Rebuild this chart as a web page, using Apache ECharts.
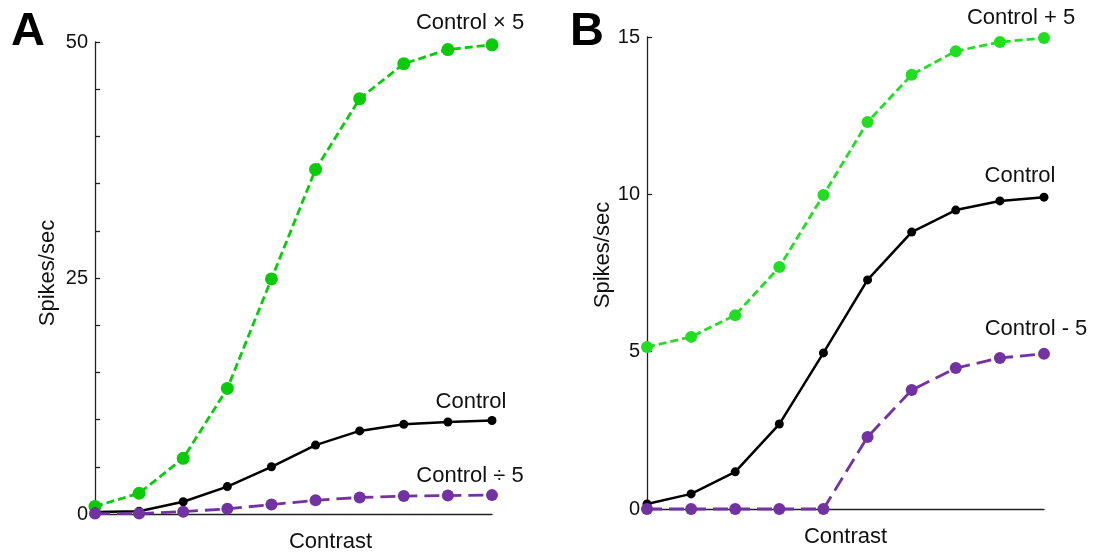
<!DOCTYPE html>
<html>
<head>
<meta charset="utf-8">
<script src="https://cdn.jsdelivr.net/npm/echarts@6/dist/echarts.min.js"></script>
<style>
  html, body { margin: 0; padding: 0; background: #fff; }
  #chart { width: 1098px; height: 554px; }
</style>
</head>
<body>
<div id="chart"></div>
<script>
// Contrast levels (ten steps, unlabelled on the axis)
const contrastLevels = ['1', '2', '3', '4', '5', '6', '7', '8', '9', '10'];

// Panel A: multiplicative gain
const controlA = [0.2, 0.3, 1.3, 2.9, 5.0, 7.3, 8.8, 9.5, 9.75, 9.9];
const controlTimes5 = [0.8, 2.2, 5.9, 13.3, 24.9, 36.5, 44.0, 47.7, 49.2, 49.7];
const controlDiv5 = [0.05, 0.05, 0.25, 0.55, 1.0, 1.45, 1.75, 1.9, 1.95, 2.0];

// Panel B: additive shift
const controlB = [0.16, 0.48, 1.18, 2.7, 4.96, 7.28, 8.8, 9.5, 9.79, 9.91];
const controlPlus5 = [5.15, 5.47, 6.16, 7.69, 9.98, 12.3, 13.8, 14.55, 14.84, 14.97];
const controlMinus5 = [0, 0, 0, 0, 0, 2.29, 3.78, 4.48, 4.8, 4.93];

// Y-axis tick labels
const ticksA = [0, 25, 50];
const ticksB = [0, 5, 10, 15];

const FONT = 'Liberation Sans, Arial, sans-serif';
const GREEN_A = '#0acb0a';
const GREEN_B = '#22de22';
const PURPLE = '#7232a2';
const BLACK = '#000000';

function withEndLabel(values, text, offset) {
  const last = values.length - 1;
  return values.map((v, i) => i === last ? {
    value: v,
    label: {
      show: true, position: 'inside', offset: offset, formatter: text,
      color: '#111', fontSize: 22, fontFamily: FONT
    }
  } : v);
}

function lineSeries(gridIdx, values, color, type, width, size, text, offset) {
  return {
    type: 'line',
    xAxisIndex: gridIdx, yAxisIndex: gridIdx,
    data: withEndLabel(values, text, offset),
    symbol: 'circle', symbolSize: size,
    itemStyle: { color: color },
    lineStyle: { color: color, width: width, type: type },
    emphasis: { disabled: true },
    clip: false,
    z: 3
  };
}

function xAxis(gridIdx, nameOffset) {
  return {
    type: 'category', gridIndex: gridIdx, data: contrastLevels, boundaryGap: false,
    axisLine: { lineStyle: { color: '#222', width: 1.3 } },
    axisTick: { show: false }, axisLabel: { show: false }, splitLine: { show: false },
    name: 'Contrast', nameLocation: 'middle', nameGap: 17,
    nameTextStyle: { color: '#111', fontSize: 22, fontFamily: FONT, padding: nameOffset }
  };
}

function yAxis(gridIdx, max, interval, shown, gap, pad) {
  return {
    type: 'value', gridIndex: gridIdx, min: 0, max: max, interval: interval,
    axisLine: { show: true, lineStyle: { color: '#222', width: 1.3 } },
    axisTick: { show: true, inside: true, length: 5, lineStyle: { color: '#222', width: 1.3 } },
    axisLabel: {
      color: '#111', fontSize: 20, fontFamily: FONT, margin: 7,
      formatter: v => shown.includes(v) ? String(v) : ''
    },
    splitLine: { show: false },
    name: 'Spikes/sec', nameLocation: 'middle', nameRotate: 90, nameGap: gap,
    nameTextStyle: { color: '#111', fontSize: 22, fontFamily: FONT, padding: pad }
  };
}

const chart = echarts.init(document.getElementById('chart'), null, { renderer: 'canvas' });
chart.setOption({
  animation: false,
  backgroundColor: '#ffffff',
  grid: [
    { left: 95, top: 42, width: 397, height: 472, outerBoundsMode: 'none', containLabel: false },
    { left: 647, top: 37, width: 397, height: 472, outerBoundsMode: 'none', containLabel: false }
  ],
  xAxis: [xAxis(0, [0, 0, 0, 74]), xAxis(1, [0, 0, 0, 0])],
  yAxis: [
    yAxis(0, 50, 5, ticksA, 36, [0, 0, 0, 10]),
    yAxis(1, 15, 5, ticksB, 24, [0, 0, 0, 36])
  ],
  graphic: [
    { type: 'text', left: 11, top: 9, style: { text: 'A', fontSize: 47, fontWeight: 'bold', fontFamily: FONT, fill: '#000' } },
    { type: 'text', left: 570, top: 9, style: { text: 'B', fontSize: 47, fontWeight: 'bold', fontFamily: FONT, fill: '#000' } }
  ],
  series: [
    lineSeries(0, controlTimes5, GREEN_A, [8, 4], 2.8, 13, 'Control × 5', [-22, -22]),
    lineSeries(0, controlA, BLACK, 'solid', 2.5, 9, 'Control', [-21, -19]),
    lineSeries(0, controlDiv5, PURPLE, [15, 7], 2.8, 12, 'Control ÷ 5', [-22, -19]),
    lineSeries(1, controlPlus5, GREEN_B, [8, 4], 2.8, 12, 'Control + 5', [-23, -20]),
    lineSeries(1, controlB, BLACK, 'solid', 2.5, 9, 'Control', [-24, -21]),
    lineSeries(1, controlMinus5, PURPLE, [15, 7], 2.8, 12, 'Control - 5', [-8, -25])
  ]
});
</script>
</body>
</html>
